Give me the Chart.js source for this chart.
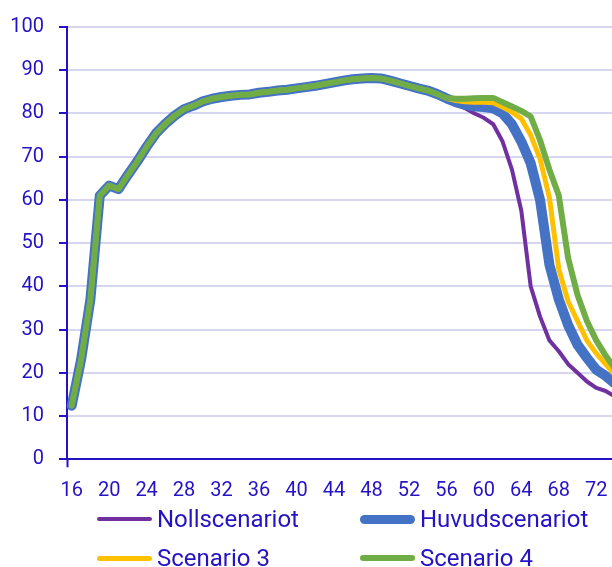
<!DOCTYPE html>
<html>
<head>
<meta charset="utf-8">
<script src="https://cdn.jsdelivr.net/npm/chart.js@4"></script>
<style>
  body { margin: 0; background: #fff; overflow: hidden; }
  #wrap { position: absolute; left: 0; top: 0; width: 627px; height: 500px; }
  #myChart { display: block; width: 627px; height: 500px; }
  #legend { position: absolute; left: 0; top: 0; width: 612px; height: 567px; pointer-events: none; }
  .item { position: absolute; display: flex; align-items: center; height: 30px;
          font-family: Roboto, sans-serif; font-size: 24px; color: #2412c4; white-space: nowrap; }
  .item .swatch { display: inline-block; width: 55px; margin-right: 5px; }
</style>
</head>
<body>
<div id="wrap"><canvas id="myChart" width="627" height="500"></canvas></div>
<div id="legend"></div>
<script>
// ages on the x axis (chart is cut off on the right after ~73)
var ages = ['16','17','18','19','20','21','22','23','24','25','26','27','28','29','30','31','32','33','34','35',
            '36','37','38','39','40','41','42','43','44','45','46','47','48','49','50','51','52','53','54','55',
            '56','57','58','59','60','61','62','63','64','65','66','67','68','69','70','71','72','73','74'];

var nollscenariot = [12.4, 23, 37, 61, 63.3, 62.5, 65.8, 68.9, 72.3, 75.4,
  77.6, 79.5, 81, 81.8, 82.8, 83.4, 83.8, 84.1, 84.3, 84.4,
  84.8, 85.0, 85.3, 85.5, 85.8, 86.1, 86.4, 86.8, 87.2, 87.6,
  87.9, 88.1, 88.2, 88.1, 87.6, 87.0, 86.4, 85.8, 85.3, 84.5,
  83.5, 82.5, 81.2, 80, 79, 77.5, 73.5, 67, 57.5, 40,
  33, 27.5, 25, 22, 20, 18, 16.5, 15.8, 14.5];

var huvudscenariot = [12.4, 23, 37, 61, 63.3, 62.5, 65.8, 68.9, 72.3, 75.4,
  77.6, 79.5, 81, 81.8, 82.8, 83.4, 83.8, 84.1, 84.3, 84.4,
  84.8, 85.0, 85.3, 85.5, 85.8, 86.1, 86.4, 86.8, 87.2, 87.6,
  87.9, 88.1, 88.2, 88.1, 87.6, 87.0, 86.4, 85.8, 85.3, 84.5,
  83.5, 82.6, 82, 81.6, 81.5, 81.2, 80, 77.5, 73.5, 68.5,
  60, 45, 37, 31, 26.5, 23.5, 20.7, 19.3, 17.5];

var scenario3 = [12.4, 23, 37, 61, 63.3, 62.5, 65.8, 68.9, 72.3, 75.4,
  77.6, 79.5, 81, 81.8, 82.8, 83.4, 83.8, 84.1, 84.3, 84.4,
  84.8, 85.0, 85.3, 85.5, 85.8, 86.1, 86.4, 86.8, 87.2, 87.6,
  87.9, 88.1, 88.2, 88.1, 87.6, 87.0, 86.4, 85.8, 85.3, 84.5,
  83.5, 83, 82.7, 82.6, 82.6, 82.5, 81.5, 80.3, 78.8, 75,
  69.5, 60.5, 44, 36.5, 32, 27.5, 24.5, 22, 19.5];

var scenario4 = [12.4, 23, 37, 61, 63.3, 62.5, 65.8, 68.9, 72.3, 75.4,
  77.6, 79.5, 81, 81.8, 82.8, 83.4, 83.8, 84.1, 84.3, 84.4,
  84.8, 85.0, 85.3, 85.5, 85.8, 86.1, 86.4, 86.8, 87.2, 87.6,
  87.9, 88.1, 88.2, 88.1, 87.6, 87.0, 86.4, 85.8, 85.3, 84.5,
  83.6, 83.4, 83.4, 83.5, 83.6, 83.6, 82.6, 81.6, 80.6, 79.3,
  73.8, 67, 61, 46.5, 38, 32, 27.5, 24, 21];

var textBlue = '#2412c4';
var gridColor = '#d6d6f0';

function line(label, data, color, width, order) {
    return {
        label: label,
        data: data,
        borderColor: color,
        backgroundColor: color,
        borderWidth: width,
        pointRadius: 0,
        tension: 0,
        borderJoinStyle: 'round',
        borderCapStyle: 'round',
        fill: false,
        order: order
    };
}

var ctx = document.getElementById('myChart').getContext('2d');
var myChart = new Chart(ctx, {
    type: 'line',
    data: {
        labels: ages,
        datasets: [
            line('Nollscenariot', nollscenariot, '#7030a0', 4, 3),
            line('Huvudscenariot', huvudscenariot, '#4472c4', 10, 2),
            line('Scenario 3', scenario3, '#ffc000', 5, 1),
            line('Scenario 4', scenario4, '#70ad47', 6, 0)
        ]
    },
    options: {
        responsive: false,
        animation: false,
        layout: { padding: { top: 22, left: 0, right: 0, bottom: 0 } },
        plugins: {
            legend: { display: false },
            tooltip: { enabled: false }
        },
        scales: {
            x: {
                offset: true,
                afterFit: function (scale) { scale.height = 40.7; },
                border: { color: textBlue, width: 2 },
                grid: {
                    offset: true,
                    drawOnChartArea: false,
                    tickLength: 8,
                    tickWidth: 2,
                    tickColor: function (c) { return c.index === 0 ? textBlue : 'rgba(0,0,0,0)'; }
                },
                ticks: {
                    autoSkip: false,
                    maxRotation: 0,
                    padding: 12,
                    color: textBlue,
                    font: { family: 'Roboto', size: 20 },
                    callback: function (val, i) { return i % 4 === 0 ? ages[i] : ''; }
                }
            },
            y: {
                min: 0,
                max: 100,
                afterFit: function (scale) { scale.width = 67; },
                border: { color: textBlue, width: 2 },
                grid: {
                    color: gridColor,
                    lineWidth: 2,
                    tickColor: textBlue,
                    tickWidth: 2,
                    tickLength: 8
                },
                ticks: {
                    stepSize: 10,
                    padding: 15,
                    color: textBlue,
                    font: { family: 'Roboto', size: 20 }
                }
            }
        }
    }
});

// legend in two columns, built from the datasets
var legendPos = [[97, 504], [360, 504], [97, 543], [360, 543]];
var legendEl = document.getElementById('legend');
myChart.data.datasets.forEach(function (ds, i) {
    var item = document.createElement('div');
    item.className = 'item';
    item.style.left = legendPos[i][0] + 'px';
    item.style.top = legendPos[i][1] + 'px';
    var sw = document.createElement('span');
    sw.className = 'swatch';
    sw.style.height = Math.min(ds.borderWidth, 9) + 'px';
    sw.style.borderRadius = '5px';
    sw.style.background = ds.borderColor;
    item.appendChild(sw);
    item.appendChild(document.createTextNode(ds.label));
    legendEl.appendChild(item);
});
</script>
</body>
</html>
